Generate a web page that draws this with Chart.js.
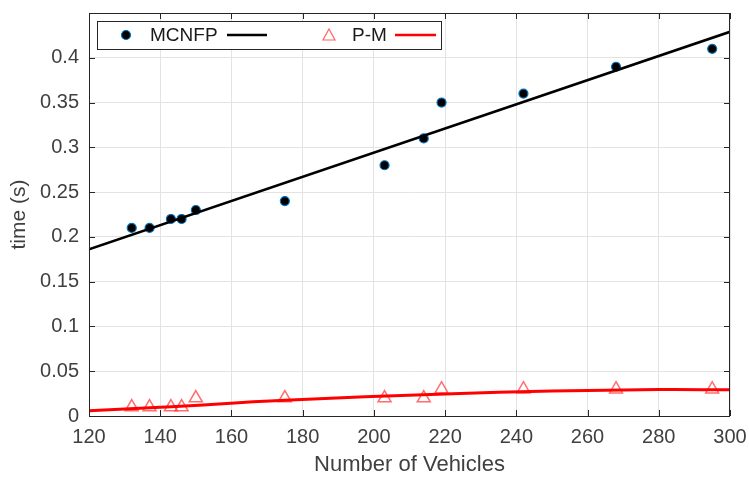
<!DOCTYPE html>
<html>
<head>
<meta charset="utf-8">
<script src="https://cdn.jsdelivr.net/npm/chart.js@4"></script>
<style>
  body { margin: 0; background: #fff; }
  #wrap { width: 749px; height: 480px; position: relative; }
</style>
</head>
<body>
<div id="wrap"><canvas id="chart"></canvas></div>
<script>
// Measured data
const vehicles = [132, 137, 143, 146, 150, 175, 203, 214, 219, 242, 268, 295];
const mcnfpTime = [0.21, 0.21, 0.22, 0.22, 0.23, 0.24, 0.28, 0.31, 0.35, 0.36, 0.39, 0.41];
const pmTime = [0.01, 0.01, 0.01, 0.01, 0.02, 0.02, 0.02, 0.02, 0.03, 0.03, 0.03, 0.03];

// Fitted curves
const mcnfpFitX = [120, 300];
const mcnfpFitY = [0.186, 0.429];
const pmFitX = [120, 140, 175, 220, 250, 280, 300];
const pmFitY = [0.006, 0.0097, 0.0175, 0.0246, 0.0278, 0.0295, 0.0292];

const xTicks = [120, 140, 160, 180, 200, 220, 240, 260, 280, 300];

const toPoints = (xs, ys) => xs.map((x, i) => ({ x: x, y: ys[i] }));

const textColor = '#404040';
const axisColor = '#262626';
const fontFamily = 'Arial, "Liberation Sans", sans-serif';

// box around the plot with inward ticks, like the original figure
const boxPlugin = {
  id: 'box',
  afterDatasetsDraw(chart) {
    const { ctx, chartArea: a, scales } = chart;
    ctx.save();
    ctx.strokeStyle = axisColor;
    ctx.lineWidth = 1;
    ctx.strokeRect(a.left + 0.5, a.top + 0.5, a.right - a.left - 1, a.bottom - a.top);
    ctx.beginPath();
    xTicks.forEach(v => {
      const px = Math.round(scales.x.getPixelForValue(v)) + 0.5;
      ctx.moveTo(px, a.bottom); ctx.lineTo(px, a.bottom - 6);
      ctx.moveTo(px, a.top); ctx.lineTo(px, a.top + 6);
    });
    for (let v = 0; v <= 0.45; v += 0.05) {
      const py = Math.round(scales.y.getPixelForValue(v)) + 0.5;
      ctx.moveTo(a.left, py); ctx.lineTo(a.left + 6, py);
      ctx.moveTo(a.right, py); ctx.lineTo(a.right - 6, py);
    }
    ctx.stroke();
    ctx.restore();
  }
};

// legend laid out as: marker, name, line sample
const legendPlugin = {
  id: 'boxLegend',
  afterDraw(chart) {
    const ctx = chart.ctx;
    ctx.save();
    ctx.fillStyle = '#fff';
    ctx.fillRect(97, 21, 344, 28);
    ctx.strokeStyle = axisColor;
    ctx.lineWidth = 1;
    ctx.strokeRect(97.5, 21.5, 344, 28);
    const cy = 35;
    ctx.font = '19px ' + fontFamily;
    ctx.textBaseline = 'middle';

    // MCNFP
    ctx.beginPath();
    ctx.arc(126, cy, 4.5, 0, Math.PI * 2);
    ctx.fillStyle = '#000';
    ctx.fill();
    ctx.strokeStyle = '#0072BD';
    ctx.lineWidth = 1.2;
    ctx.stroke();
    ctx.fillStyle = '#1a1a1a';
    ctx.fillText('MCNFP', 150, cy + 1);
    ctx.beginPath();
    ctx.moveTo(227, cy); ctx.lineTo(267, cy);
    ctx.strokeStyle = '#000';
    ctx.lineWidth = 2.5;
    ctx.stroke();

    // P-M
    ctx.beginPath();
    ctx.moveTo(329, cy - 6); ctx.lineTo(335, cy + 5); ctx.lineTo(323, cy + 5); ctx.closePath();
    ctx.strokeStyle = 'rgba(255, 60, 60, 0.8)';
    ctx.lineWidth = 1.2;
    ctx.stroke();
    ctx.fillText('P-M', 352, cy + 1);
    ctx.beginPath();
    ctx.moveTo(395, cy); ctx.lineTo(436, cy);
    ctx.strokeStyle = '#ff0000';
    ctx.lineWidth = 2.5;
    ctx.stroke();
    ctx.restore();
  }
};

new Chart(document.getElementById('chart'), {
  type: 'scatter',
  data: {
    datasets: [
      {
        label: 'MCNFP fit',
        data: toPoints(mcnfpFitX, mcnfpFitY),
        showLine: true,
        borderColor: '#000',
        borderWidth: 2.5,
        pointRadius: 0,
        order: 0
      },
      {
        label: 'P-M fit',
        data: toPoints(pmFitX, pmFitY),
        showLine: true,
        borderColor: '#ff0000',
        borderWidth: 3,
        pointRadius: 0,
        tension: 0.4,
        order: 0
      },
      {
        label: 'MCNFP',
        data: toPoints(vehicles, mcnfpTime),
        pointStyle: 'circle',
        pointRadius: 4.5,
        backgroundColor: '#000',
        borderColor: '#0072BD',
        borderWidth: 1.2,
        order: 1
      },
      {
        label: 'P-M',
        data: toPoints(vehicles, pmTime),
        pointStyle: 'triangle',
        pointRadius: 7.5,
        backgroundColor: 'rgba(255, 255, 255, 0)',
        borderColor: 'rgba(255, 60, 60, 0.75)',
        borderWidth: 1.5,
        order: 1
      }
    ]
  },
  options: {
    responsive: true,
    maintainAspectRatio: false,
    animation: false,
    layout: { padding: { left: 0, top: 13, right: 19, bottom: 0 } },
    plugins: {
      legend: { display: false },
      tooltip: { enabled: false }
    },
    scales: {
      x: {
        type: 'linear',
        min: 120,
        max: 300,
        afterFit: s => { s.height = 64; s.paddingLeft = 0; s.paddingRight = 0; },
        afterBuildTicks: s => { s.ticks = xTicks.map(v => ({ value: v })); },
        ticks: {
          padding: 9,
          color: textColor,
          font: { family: fontFamily, size: 20 }
        },
        grid: { color: '#e3e3e3', drawTicks: false },
        border: { display: false },
        title: {
          display: true,
          text: 'Number of Vehicles',
          color: textColor,
          font: { family: fontFamily, size: 22 },
          padding: { top: 0, bottom: 2 }
        }
      },
      y: {
        type: 'linear',
        min: 0,
        max: 0.45,
        afterFit: s => { s.width = 89; s.paddingTop = 0; s.paddingBottom = 0; },
        ticks: {
          stepSize: 0.05,
          padding: 10,
          color: textColor,
          font: { family: fontFamily, size: 20 },
          callback: v => (v > 0.44 ? '' : String(+v.toFixed(2)))
        },
        grid: { color: '#e3e3e3', drawTicks: false },
        border: { display: false },
        title: {
          display: true,
          text: 'time (s)',
          color: textColor,
          font: { family: fontFamily, size: 21 },
          padding: { top: 7, bottom: 0 }
        }
      }
    }
  },
  plugins: [boxPlugin, legendPlugin]
});
</script>
</body>
</html>
